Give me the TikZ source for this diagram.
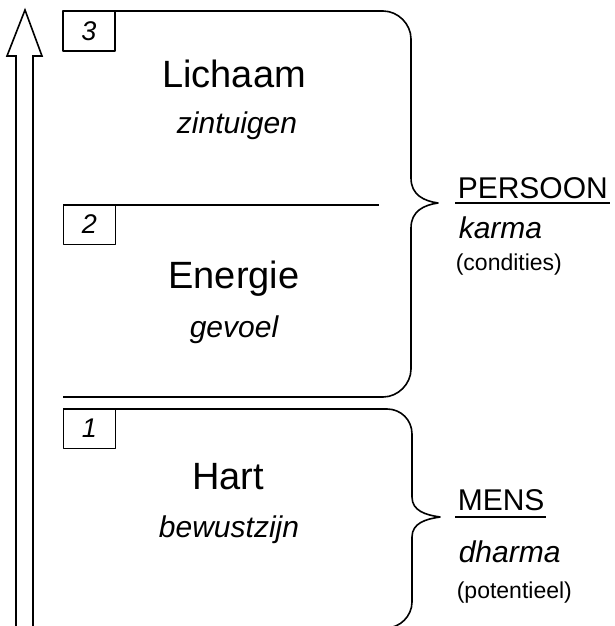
\documentclass[tikz,border=0pt]{standalone}
\usepackage{fontspec}
\setmainfont{Liberation Sans}

\begin{document}
\begin{tikzpicture}[x=1pt, y=-1pt, line width=1.6pt, line join=round,
		numbox/.style={draw, line width=1.4pt, minimum width=52pt, minimum height=40pt, inner sep=0pt, font=\fontsize{27}{27}\selectfont\itshape},
		title/.style={anchor=base, inner sep=0pt, font=\fontsize{38}{40}\selectfont},
		sub/.style={anchor=base, inner sep=0pt, font=\fontsize{30}{32}\selectfont\itshape},
		side/.style={anchor=base west, inner sep=0pt, font=\fontsize{30}{32}\selectfont},
		note/.style={anchor=base west, inner sep=0pt, font=\fontsize{23}{25}\selectfont}]

		\useasboundingbox (0, 0) rectangle (614, 626);

		\draw [line join=miter] (16, 632) -- (16, 56) -- (7, 56) -- (25, 10) -- (42, 56) -- (33, 56) -- (33, 632);

		\draw (63, 11) -- (383, 11) .. controls (398, 11) and (411, 24) .. (411, 39) -- (411, 178)
			.. controls (411, 195) and (424, 201) .. (438, 203)
			.. controls (424, 205) and (411, 211) .. (411, 228) -- (411, 369)
			.. controls (411, 384) and (398, 397) .. (383, 397) -- (63, 397);

		\draw (63, 205) -- (379, 205);

		\draw (63, 409) -- (387, 409) .. controls (401, 409) and (412, 420) .. (412, 434) -- (412, 497)
			.. controls (412, 511) and (426, 515) .. (440, 517)
			.. controls (426, 519) and (412, 523) .. (412, 537) -- (412, 602)
			.. controls (412, 616) and (400, 628) .. (386, 628) -- (63, 628);

		\node [numbox] (nr3) at (89, 31) {3};
		\draw (234, 87) node [title] (lichaam) {Lichaam};
		\draw (237, 133) node [sub] (zintuigen) {zintuigen};

		\node [numbox] (nr2) at (89.5, 224.5) {2};
		\draw (234, 288) node [title] (energie) {Energie};
		\draw (234, 337) node [sub] (gevoel) {gevoel};

		\node [numbox] (nr1) at (89.5, 428.5) {1};
		\draw (228, 489) node [title] (hart) {Hart};
		\draw (229, 537) node [sub] (bewustzijn) {bewustzijn};

		\draw (457, 198) node [side] (persoon) {PERSOON};
		\draw ([xshift=-2pt, yshift=-5pt]persoon.base west) -- ([xshift=1pt, yshift=-5pt]persoon.base east);
		\draw (458, 238) node [side, font=\fontsize{30}{32}\selectfont\itshape] (karma) {karma};
		\draw (455, 270) node [note] (condities) {(condities)};

		\draw (457, 510) node [side] (mens) {MENS};
		\draw ([xshift=-2pt, yshift=-7pt]mens.base west) -- ([xshift=1pt, yshift=-7pt]mens.base east);
		\draw (458, 562) node [side, font=\fontsize{30}{32}\selectfont\itshape] (dharma) {dharma};
		\draw (456, 598) node [note] (potentieel) {(potentieel)};
	\end{tikzpicture}
\end{document}
